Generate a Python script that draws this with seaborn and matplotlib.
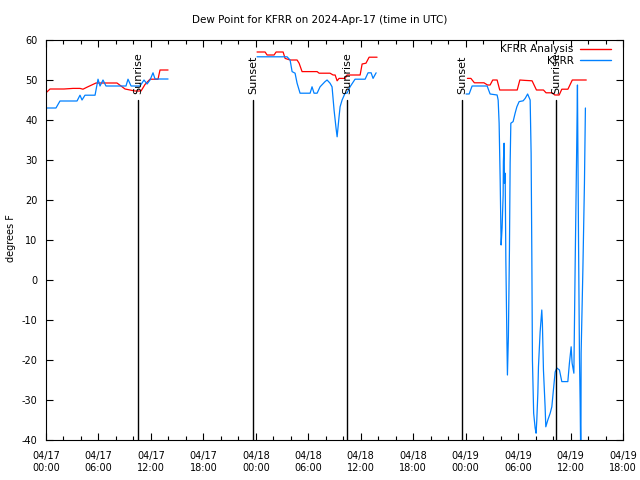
import pandas as pd
import matplotlib
matplotlib.use('Agg')
import matplotlib.pyplot as plt
import matplotlib.dates as mdates
from matplotlib.lines import Line2D
import seaborn as sns

# -------------------- DATA --------------------
# times are hours after 2024-04-17 00:00 UTC, values are dew point (F)
start = pd.Timestamp('2024-04-17 00:00')

ana_hours_1 = [0.0, 0.46, 2.06, 3.09, 3.89, 4.23, 4.69, 5.72, 8.12, 9.04, 10.18, 10.87,
               11.33, 11.90, 12.81, 13.04, 13.96]
ana_vals_1 = [46.8, 47.75, 47.75, 47.9, 47.9, 47.7, 48.2, 49.25, 49.25, 47.75, 47.25, 47.25,
              48.9, 50.2, 50.2, 52.5, 52.5]

ana_hours_2 = [24.14, 25.06, 25.29, 26.09, 26.32, 27.12, 27.35, 27.92, 28.72, 28.95, 29.29,
               31.01, 31.24, 32.49, 32.84, 33.07, 33.30, 33.52, 34.21, 34.44, 35.93, 36.16,
               36.6, 36.96, 37.87]
ana_vals_2 = [57.0, 57.0, 56.25, 56.25, 57.0, 57.0, 55.4, 55.0, 55.0, 54.2, 52.1,
              52.1, 51.7, 51.7, 51.25, 51.25, 49.8, 50.4, 50.4, 51.25, 51.25, 54.0,
              54.2, 55.7, 55.7]

ana_hours_3 = [48.2, 48.6, 49.0, 50.1, 50.5, 50.8, 51.1, 51.6, 51.9, 53.9, 54.2, 54.8,
               55.6, 56.1, 56.9, 57.2, 57.9, 58.2, 58.7, 59.0, 59.7, 60.2, 61.8]
ana_vals_3 = [50.4, 50.4, 49.3, 49.3, 48.75, 48.75, 50.0, 50.0, 47.5, 47.5, 50.0, 49.9,
              49.8, 47.5, 47.5, 46.8, 46.8, 46.25, 46.25, 47.7, 47.7, 50.0, 50.0]

obs_hours_1 = [0.0, 1.14, 1.60, 3.55, 3.89, 4.12, 4.46, 5.61, 5.95, 6.18, 6.52, 6.86,
               9.15, 9.38, 9.73, 10.76, 11.21, 11.56, 11.90, 12.24, 12.47, 13.96]
obs_vals_1 = [43.0, 43.0, 44.75, 44.75, 46.2, 45.0, 46.2, 46.2, 50.2, 48.5, 50.0, 48.5,
              48.5, 50.2, 48.5, 48.5, 50.0, 49.0, 50.0, 51.8, 50.25, 50.25]

obs_hours_2 = [24.14, 27.57, 27.92, 28.15, 28.49, 28.72, 29.06, 30.21, 30.43, 30.66, 31.01,
               31.35, 31.92, 32.15, 32.49, 32.72, 32.95, 33.18, 33.30, 33.41, 33.52, 33.64,
               33.87, 34.21, 34.44, 34.78, 35.35, 36.50, 36.84, 37.19, 37.41, 37.76]
obs_vals_2 = [55.8, 55.8, 55.0, 52.1, 51.7, 49.2, 46.7, 46.7, 48.3, 46.7, 46.7,
              48.3, 49.6, 50.0, 49.2, 48.3, 42.5, 37.9, 35.8, 38.3, 40.8, 43.3,
              45.0, 46.7, 46.7, 48.3, 50.2, 50.2, 51.8, 51.8, 50.4, 51.8]

obs_hours_3 = [48.05, 48.40, 48.74, 50.46, 50.80, 51.60, 51.72, 51.83, 51.95, 52.06, 52.17,
               52.29, 52.32, 52.40, 52.44, 52.52, 52.60, 52.71, 52.78, 52.89, 53.01, 53.09,
               53.17, 53.43, 53.66, 53.86, 54.12, 54.58, 54.81, 55.09, 55.38, 55.49, 55.57,
               55.64, 55.78, 55.95, 56.06, 56.14, 56.26, 56.33, 56.52, 56.71, 56.78, 56.90,
               57.09, 57.17, 57.40, 57.67, 57.86, 58.04, 58.24, 58.43, 58.73, 59.00, 59.69,
               59.87, 60.07, 60.18, 60.38, 60.53, 60.72, 60.79, 60.91, 61.02, 61.10, 61.18,
               61.21, 61.41, 61.59, 61.70]
obs_vals_3 = [46.5, 46.5, 48.5, 48.5, 46.5, 46.25, 45.0, 39.2, 25.0, 8.75, 13.0,
              21.25, 29.6, 34.2, 24.2, 26.7, 5.0, -13.3, -23.75, -14.2, 7.5, 29.2,
              39.2, 39.6, 41.7, 43.3, 44.6, 44.8, 45.4, 46.5, 45.0, 31.7, 6.7,
              -20.0, -33.3, -37.0, -38.3, -35.0, -28.3, -21.7, -13.0, -7.5, -10.8, -22.5,
              -31.7, -36.7, -35.0, -33.3, -31.7, -27.5, -23.0, -22.0, -22.5, -25.4, -25.4,
              -20.8, -16.7, -20.8, -23.3, 4.2, 35.8, 48.75, 10.8, -19.2, -30.8, -48.0,
              -18.3, 2.5, 24.2, 43.0]

sun_hours = [10.53, 23.68, 34.44, 47.6, 58.35]
sun_labels = ['Sunrise', 'Sunset', 'Sunrise', 'Sunset', 'Sunrise']

series_names = ['KFRR Analysis', 'KFRR']
series_colors = ['#ff0000', '#0080ff']
# ------------------------------------------------

segments = [
    ('KFRR Analysis', 'a1', ana_hours_1, ana_vals_1),
    ('KFRR Analysis', 'a2', ana_hours_2, ana_vals_2),
    ('KFRR Analysis', 'a3', ana_hours_3, ana_vals_3),
    ('KFRR', 'o1', obs_hours_1, obs_vals_1),
    ('KFRR', 'o2', obs_hours_2, obs_vals_2),
    ('KFRR', 'o3', obs_hours_3, obs_vals_3),
]
frames = []
for name, seg, hrs, vals in segments:
    frames.append(pd.DataFrame({'time': start + pd.to_timedelta(hrs, unit='h'),
                                'dewpt': vals, 'series': name, 'seg': seg}))
df = pd.concat(frames, ignore_index=True)

sns.set_style('ticks')
plt.rcParams['font.family'] = ['DejaVu Sans']
plt.rcParams['axes.unicode_minus'] = False
plt.rcParams['text.color'] = 'black'
plt.rcParams['axes.labelcolor'] = 'black'
plt.rcParams['xtick.color'] = 'black'
plt.rcParams['ytick.color'] = 'black'

fig = plt.figure(figsize=(6.4, 4.8), dpi=100)
ax = fig.add_axes([46 / 640, 1 - 440 / 480, 577 / 640, 400 / 480])

sns.lineplot(data=df, x='time', y='dewpt', hue='series', units='seg', estimator=None,
             sort=False, palette=dict(zip(series_names, series_colors)), lw=0.9,
             legend=False, ax=ax)

# sunrise / sunset markers
for h, lab in zip(sun_hours, sun_labels):
    t = start + pd.Timedelta(hours=h)
    ax.plot([t, t], [-40, 45], color='black', lw=1.0)
    ax.text(t, 46.5, lab, rotation=90, ha='center', va='bottom', fontsize=8)

ax.set_xlim(start, start + pd.Timedelta(hours=66))
ax.set_ylim(-40, 60)
ax.set_yticks(range(-40, 61, 10))
ax.xaxis.set_major_locator(mdates.HourLocator(byhour=[0, 6, 12, 18]))
ax.xaxis.set_minor_locator(mdates.HourLocator(byhour=range(0, 24, 2)))
ax.xaxis.set_major_formatter(mdates.DateFormatter('%m/%d\n%H:%M'))
ax.tick_params(which='both', direction='in', top=True, right=True, labelsize=7,
               width=0.8, color='black')
ax.tick_params(axis='x', which='major', length=5, pad=8)
ax.tick_params(axis='y', which='major', length=5, pad=6)
ax.tick_params(which='minor', length=3)
for s in ax.spines.values():
    s.set_linewidth(0.8)
    s.set_color('black')

ax.set_xlabel('')
ax.set_ylabel('degrees F', fontsize=7)
ax.yaxis.set_label_coords(-0.052, 0.505)

fig.suptitle('Dew Point for KFRR on 2024-Apr-17 (time in UTC)', x=0.5,
             y=1 - 20 / 480, va='center', fontsize=7.5)

handles = [Line2D([], [], color=c, lw=1) for c in series_colors]
ax.legend(handles, series_names, loc='upper right', bbox_to_anchor=(0.985, 0.997),
          frameon=False, markerfirst=False, fontsize=7.5, handlelength=3.0,
          handletextpad=0.6, labelspacing=0.15, borderaxespad=0.1, borderpad=0.2)

fig.savefig('out.png', dpi=100)
